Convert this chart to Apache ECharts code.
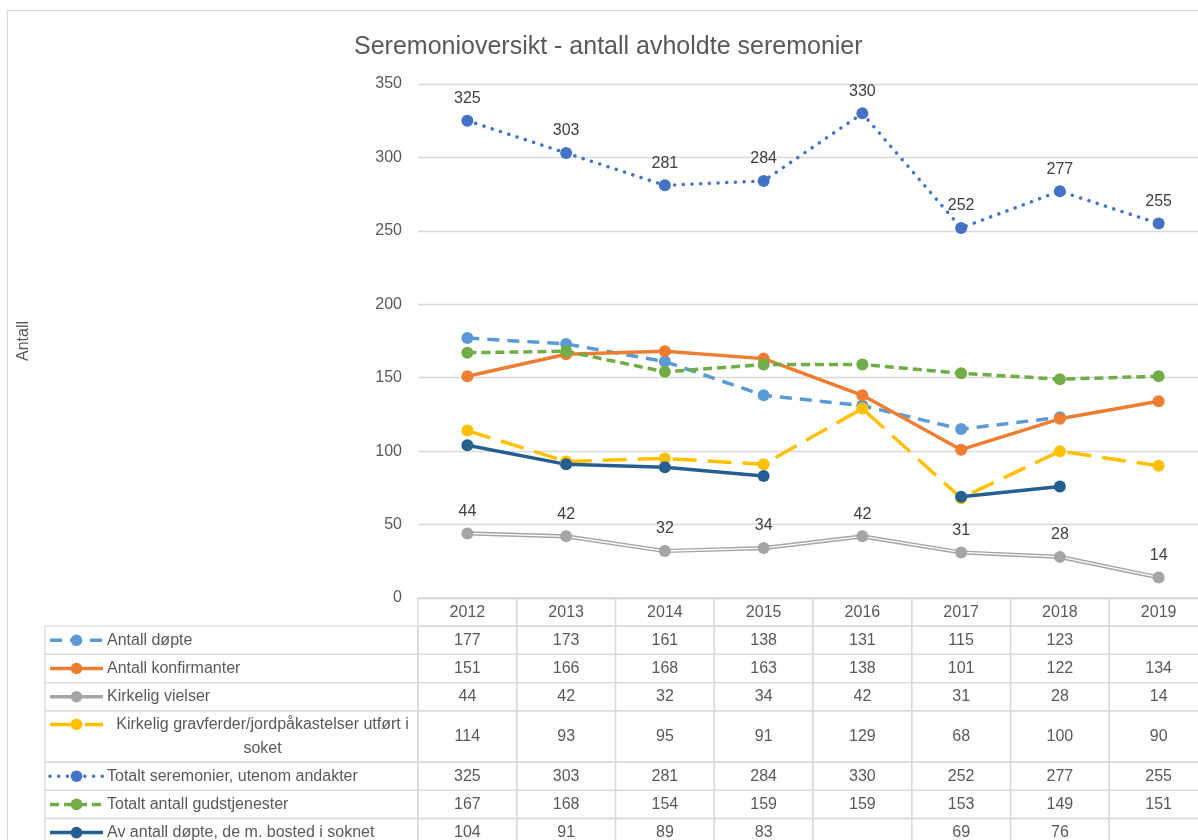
<!DOCTYPE html>
<html><head><meta charset="utf-8">
<script src="https://cdn.jsdelivr.net/npm/echarts@6/dist/echarts.min.js"></script>
<style>html,body{margin:0;padding:0;background:#fff}#c{width:1198px;height:840px}</style>
</head><body><div id="c"></div>
<script>
// ---- data ----
const years = ['2012','2013','2014','2015','2016','2017','2018','2019'];
const antallDopte = [177,173,161,138,131,115,123,null];
const antallKonfirmanter = [151,166,168,163,138,101,122,134];
const kirkeligVielser = [44,42,32,34,42,31,28,14];
const kirkeligGravferder = [114,93,95,91,129,68,100,90];
const totaltSeremonier = [325,303,281,284,330,252,277,255];
const totaltGudstjenester = [167,168,154,159,159,153,149,151];
const avAntallDopte = [104,91,89,83,null,69,76,null];
const yMin = 0, yMax = 350, yStep = 50;
const titleText = 'Seremonioversikt - antall avholdte seremonier';
const yName = 'Antall';
const rowLabels = [
  'Antall døpte',
  'Antall konfirmanter',
  'Kirkelig vielser',
  'Kirkelig gravferder/jordpåkastelser utført i\nsoket',
  'Totalt seremonier, utenom andakter',
  'Totalt antall gudstjenester',
  'Av antall døpte, de m. bosted i soknet'
];
const rowData = [antallDopte, antallKonfirmanter, kirkeligVielser, kirkeligGravferder, totaltSeremonier, totaltGudstjenester, avAntallDopte];

// ---- styles ----
const FONT = 'Liberation Sans, Arial, sans-serif';
const styles = [
  {color:'#5B9BD5', dash:[12,8], cap:'butt'},
  {color:'#ED7D31', dash:null, cap:'butt'},
  {color:'#A5A5A5', dash:null, cap:'butt'},
  {color:'#FFC000', dash:[24,11], cap:'butt'},
  {color:'#4472C4', dash:[0.1,8.6], cap:'round'},
  {color:'#70AD47', dash:[9,5], cap:'butt'},
  {color:'#255E91', dash:null, cap:'butt'}
];
const rowH = [1,1,1,1,1.82,1,1,1];
const rowTop = []; { let acc = 0; rowH.forEach(h => { rowTop.push(acc); acc += h; }); }
const rowTotal = rowH.reduce((a,b)=>a+b,0);
const UNIT = 28.2;
const LW = 3.5;

function lineSeries(i, extra) {
  const s = styles[i];
  return Object.assign({
    type:'line', name: rowLabels[i].replace('\n',' '), data: rowData[i],
    xAxisIndex:0, yAxisIndex:0,
    symbol:'circle', symbolSize:12, connectNulls:false,
    itemStyle:{color:s.color},
    lineStyle:{color:s.color, width:LW, type: s.dash ? s.dash : 'solid', cap:s.cap},
    emphasis:{disabled:true}, animation:false
  }, extra || {});
}
const labelCfg = {show:true, position:'top', distance:8, color:'#404040', fontSize:16, fontFamily:FONT};

const tableData = [];
for (let r = 0; r < rowH.length; r++) {
  for (let c = 0; c < years.length; c++) tableData.push([c, r, 0]);
  if (r > 0) tableData.push([0, r, 1]);
}
const LABEL_LEFT = 45, KEY_X1 = 50, KEY_X2 = 103, KEY_CX = 76.5, TEXT_X = 107;

function renderCell(params, api) {
  const c = api.value(0), r = api.value(1), kind = api.value(2);
  const colW = api.size([1, 0])[0];
  const yT = api.coord([c, rowTop[r]])[1];
  const yB = api.coord([c, rowTop[r] + rowH[r]])[1];
  const ym = (yT + yB) / 2;
  const border = {stroke:'#d9d9d9', lineWidth:1.3, fill:null};
  if (kind === 0) {
    const xc = api.coord([c, 0])[0];
    let txt = '';
    if (r === 0) txt = years[c];
    else { const v = rowData[r-1][c]; txt = (v === null || v === undefined) ? '' : String(v); }
    return {type:'group', children:[
      {type:'rect', shape:{x:xc - colW/2, y:yT, width:colW, height:yB - yT}, style:border},
      {type:'text', style:{text:txt, x:xc, y:ym, align:'center', verticalAlign:'middle', fill:'#595959', fontSize:16, fontFamily:FONT}}
    ]};
  }
  const i = r - 1;
  const s = styles[i];
  const xR = api.coord([0, 0])[0] - colW/2;
  const multi = rowLabels[i].indexOf('\n') >= 0;
  const yk = multi ? ym - 12 : ym;
  const children = [
    {type:'rect', shape:{x:LABEL_LEFT, y:yT, width:xR - LABEL_LEFT, height:yB - yT}, style:border}
  ];
  children.push({type:'line', shape:{x1:KEY_X1, y1:yk, x2:KEY_X2, y2:yk},
    style:{stroke:s.color, lineWidth:LW, lineDash:s.dash, lineCap:s.cap}});
  children.push({type:'circle', shape:{cx:KEY_CX, cy:yk, r:5.8}, style:{fill:s.color}});
  if (multi) {
    children.push({type:'text', style:{text:rowLabels[i], x:(TEXT_X + xR)/2, y:ym, align:'center', verticalAlign:'middle', lineHeight:24, fill:'#595959', fontSize:16, fontFamily:FONT}});
  } else {
    children.push({type:'text', style:{text:rowLabels[i], x:TEXT_X, y:ym, align:'left', verticalAlign:'middle', fill:'#595959', fontSize:16, fontFamily:FONT}});
  }
  return {type:'group', children};
}

const chart = echarts.init(document.getElementById('c'), null, {renderer:'canvas'});
const gridLeft = 418, gridRight = -10, plotTop = 84, plotBottomY = 598;
chart.setOption({
  backgroundColor:'#fff',
  animation:false,
  textStyle:{fontFamily:FONT},
  title:{text:titleText, left:349, top:30, textStyle:{fontSize:25, fontWeight:'normal', color:'#595959', fontFamily:FONT}},
  graphic:[{type:'rect', shape:{x:7.5, y:10.5, width:1250, height:900}, style:{fill:null, stroke:'#d9d9d9', lineWidth:1.2}, silent:true, z:-10}],
  grid:[
    {left:gridLeft, right:gridRight, top:plotTop, height:plotBottomY - plotTop, outerBoundsMode:'none', containLabel:false},
    {left:gridLeft, right:gridRight, top:plotBottomY, height:rowTotal*UNIT, outerBoundsMode:'none', containLabel:false}
  ],
  xAxis:[
    {type:'category', data:years, gridIndex:0, boundaryGap:true,
     axisLine:{show:true, lineStyle:{color:'#d9d9d9', width:1.3}}, axisTick:{show:false}, axisLabel:{show:false}, splitLine:{show:false}},
    {type:'category', data:years, gridIndex:1, boundaryGap:true, show:false}
  ],
  yAxis:[
    {type:'value', gridIndex:0, min:yMin, max:yMax, interval:yStep,
     name:yName, nameLocation:'middle', nameGap:386, nameRotate:90,
     nameTextStyle:{color:'#595959', fontSize:16, fontFamily:FONT},
     axisLine:{show:false}, axisTick:{show:false},
     axisLabel:{color:'#595959', fontSize:16, margin:16, fontFamily:FONT},
     splitLine:{show:true, lineStyle:{color:'#d9d9d9', width:1.3}}},
    {type:'value', gridIndex:1, min:0, max:rowTotal, inverse:true, show:false}
  ],
  series:[
    lineSeries(0),
    lineSeries(1),
    lineSeries(2, {showSymbol:false, lineStyle:{color:styles[2].color, width:4.2}}),
    {type:'line', data:kirkeligVielser, xAxisIndex:0, yAxisIndex:0, showSymbol:false, silent:true,
     lineStyle:{color:'#ffffff', width:1.3}, emphasis:{disabled:true}, tooltip:{show:false}},
    lineSeries(2, {lineStyle:{opacity:0, width:0}, label:labelCfg}),
    lineSeries(3),
    lineSeries(4, {label:labelCfg}),
    lineSeries(5),
    lineSeries(6),
    {type:'custom', xAxisIndex:1, yAxisIndex:1, data:tableData, renderItem:renderCell, clip:false, silent:true}
  ]
});
</script>
</body></html>
